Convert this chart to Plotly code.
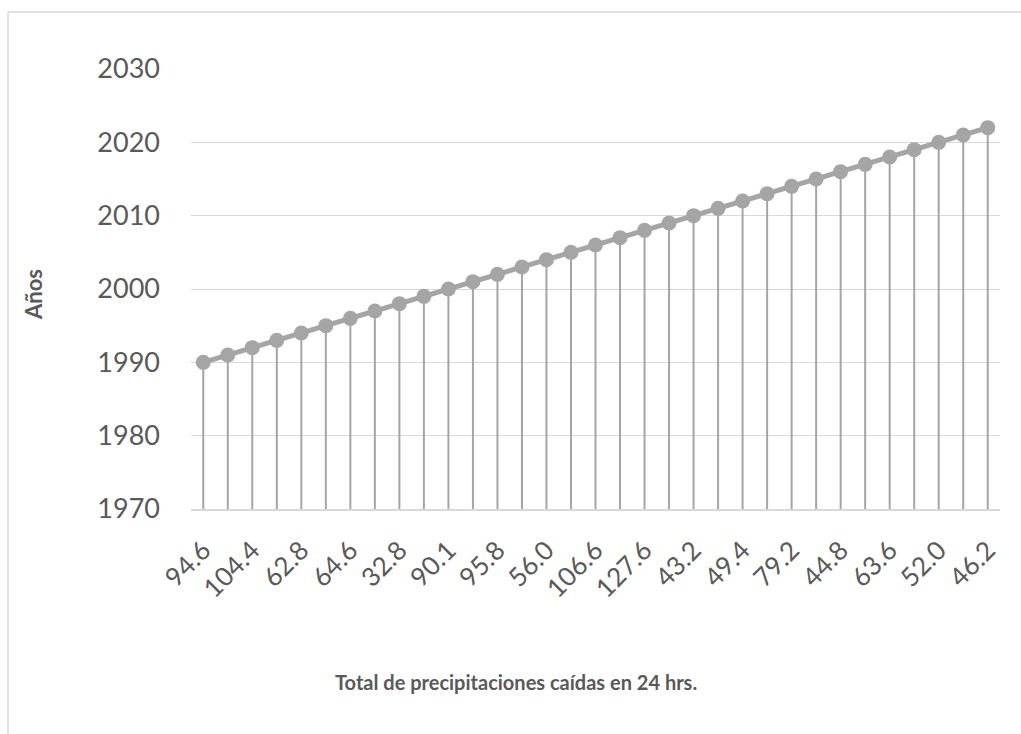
import plotly.graph_objects as go

# Precipitation totals (category labels); odd-index labels are hidden in the reference, estimated
categories = ["94.6", "78.5", "104.4", "55.3", "62.8", "70.2", "64.6", "88.0", "32.8", "41.6",
              "90.1", "66.4", "95.8", "59.7", "56.0", "112.3", "106.6", "73.1", "127.6", "38.9",
              "43.2", "84.2", "49.4", "57.5", "79.2", "61.0", "44.8", "50.8", "63.6", "97.4",
              "52.0", "69.9", "46.2"]
years = [1990, 1991, 1992, 1993, 1994, 1995, 1996, 1997, 1998, 1999, 2000, 2001, 2002,
         2003, 2004, 2005, 2006, 2007, 2008, 2009, 2010, 2011, 2012, 2013, 2014, 2015,
         2016, 2017, 2018, 2019, 2020, 2021, 2022]
shown_ticks = categories[::2]
y_min, y_max = 1970, 2030

GREY = "#a5a5a5"
GRID = "#d9d9d9"
TXT = "#595959"
FONT = "Lato"

fig = go.Figure()
fig.add_trace(go.Scatter(
    x=categories, y=years, mode="lines+markers",
    line=dict(color=GREY, width=5),
    marker=dict(color=GREY, size=15),
    error_y=dict(type="data", symmetric=False,
                 array=[0] * len(years),
                 arrayminus=[y - y_min for y in years],
                 color=GREY, thickness=2, width=0),
    hoverinfo="x+y", showlegend=False,
))

L, R, T, B = 191, 21, 69, 225
W, H = 1021, 734
pw, ph = W - L - R, H - T - B

def px_x(x):
    return (x - L) / pw

def px_y(y):
    return (H - B - y) / ph

fig.update_layout(
    width=W, height=H,
    margin=dict(l=L, r=R, t=T, b=B, pad=0),
    paper_bgcolor="white", plot_bgcolor="white",
    font=dict(family=FONT, color=TXT),
    xaxis=dict(type="category", categoryorder="array", categoryarray=categories,
               tickvals=shown_ticks, ticktext=shown_ticks, tickangle=-45,
               tickfont=dict(size=26, color=TXT, family=FONT),
               showgrid=False, showline=True, linecolor=GRID, linewidth=1.5,
               ticks="", ticklabelstandoff=14, range=[-0.5, len(categories) - 0.5],
               zeroline=False),
    yaxis=dict(range=[y_min, y_max], dtick=10, tick0=1970,
               tickfont=dict(size=27, color=TXT, family=FONT),
               showgrid=True, gridcolor=GRID, gridwidth=1.3,
               ticks="", ticklabelstandoff=30, showline=False, zeroline=False),
    shapes=[
        dict(type="line", xref="paper", yref="paper",
             x0=px_x(8), x1=px_x(8), y0=px_y(12), y1=px_y(760),
             line=dict(color=GRID, width=1.5), layer="below"),
        dict(type="line", xref="paper", yref="paper",
             x0=px_x(8), x1=px_x(1040), y0=px_y(12), y1=px_y(12),
             line=dict(color=GRID, width=1.5), layer="below"),
    ],
    annotations=[
        dict(text="<b>Años</b>", xref="paper", yref="paper",
             x=px_x(33), y=px_y(295), textangle=-90, showarrow=False,
             xanchor="center", yanchor="middle",
             font=dict(size=22, color=TXT, family=FONT)),
        dict(text="<b>Total de precipitaciones caídas en 24 hrs.</b>", xref="paper", yref="paper",
             x=px_x(516), y=px_y(682), showarrow=False,
             xanchor="center", yanchor="middle",
             font=dict(size=20, color=TXT, family=FONT)),
    ],
)

fig.write_html("out.html")
